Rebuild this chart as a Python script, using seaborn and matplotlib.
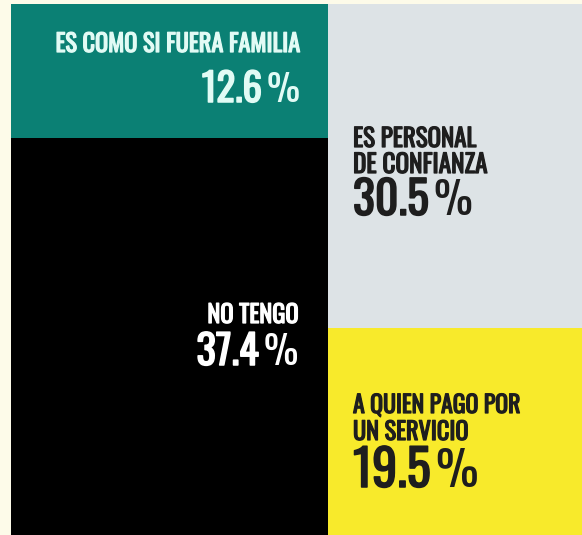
import pandas as pd
import matplotlib.pyplot as plt
import seaborn as sns
from matplotlib import font_manager
import matplotlib.patheffects as pe

# data
columns = [0, 0, 1, 1]
labels = ["ES COMO SI FUERA FAMILIA", "NO TENGO",
          "ES PERSONAL\nDE CONFIANZA", "A QUIEN PAGO POR\nUN SERVICIO"]
values = [12.6, 37.4, 30.5, 19.5]
value_text = ["12.6", "37.4", "30.5", "19.5"]

colors = ["#0b8074", "#000000", "#dde3e6", "#f8ea2b"]
text_colors = ["#e2fbf5", "#ffffff", "#1e1e1e", "#1e1e1e"]

df = pd.DataFrame({"col": columns, "label": labels, "value": values})
df["start"] = df.groupby("col")["value"].cumsum() - df["value"]
df["end"] = df["start"] + df["value"]

# condensed font if there is one, else DejaVu condensed
names = {f.name for f in font_manager.fontManager.ttflist}
fam, stretch = "DejaVu Sans", "condensed"
for cand in ["Oswald", "Bebas Neue", "Antonio"]:
    if cand in names:
        fam, stretch = cand, "normal"
        break

sns.set_theme(style="white")

W, H = 582, 535
fig = plt.figure(figsize=(W / 100, H / 100), dpi=100, facecolor="#fdfbe9")
ax = fig.add_axes([11 / W, 0, 1 - 11 / W, 531 / H])

# deepest segment first so the upper ones sit on top
for lvl in [1, 0]:
    part = df.iloc[[lvl, 2 + lvl]]
    sns.barplot(data=part, x="col", y="end", hue="label",
                palette=dict(zip(part["label"], [colors[lvl], colors[2 + lvl]])),
                width=1.0, errorbar=None, legend=False, ax=ax,
                linewidth=0, saturation=1)

ax.set_xlim(-0.5, 1.3)
ax.set_ylim(50, 0)
ax.axis("off")

renderer = fig.canvas.get_renderer()


def px_x(px):
    return -0.5 + (px - 11) / 571 * 1.8


def px_y(py):
    return (py - 4) / 531 * 50


def fitted(x, y, s, target_w, **kw):
    t = ax.text(x, y, s, fontsize=10, family=fam, fontstretch=stretch,
                va="baseline", **kw)
    w = t.get_window_extent(renderer).width
    t.set_fontsize(10 * target_w / w)
    return t


def thicken(t, lw):
    t.set_path_effects([pe.withStroke(linewidth=lw, foreground=t.get_color())])


# per box: x anchor px, label lines (baseline px, width px), number baseline, number width
layout = [
    (300, [(52, 245)], 102, 60),
    (298, [(323, 91)], 365, 61),
    (353, [(147, 124), (173, 134)], 215, 75),
    (353, [(413, 167), (440, 115)], 487, 77),
]

for i, row in df.iterrows():
    tc = text_colors[i]
    xa, lines, nb, nw = layout[i]
    ha = "right" if row["col"] == 0 else "left"
    for line, (bl, lw) in zip(row["label"].split("\n"), lines):
        t = fitted(px_x(xa), px_y(bl), line, lw, ha=ha, color=tc)
        thicken(t, 0.9)
    if ha == "right":
        num = fitted(px_x(xa - 30), px_y(nb), value_text[i], nw,
                     ha="right", color=tc)
        pct = ax.text(px_x(xa), px_y(nb), "%", ha="right", va="baseline",
                      color=tc, family=fam, fontsize=num.get_fontsize() * 0.95,
                      fontweight="light")
        pw = pct.get_window_extent(renderer).width
        num.set_x(px_x(xa - pw - 5))
    else:
        num = fitted(px_x(xa), px_y(nb), value_text[i], nw, ha="left", color=tc)
        pct = ax.text(px_x(xa + nw + 5), px_y(nb), "%", ha="left",
                      va="baseline", color=tc, family=fam,
                      fontsize=num.get_fontsize() * 0.95, fontweight="light")
    thicken(num, 1.1)

fig.savefig("out.png", dpi=100, facecolor=fig.get_facecolor())
